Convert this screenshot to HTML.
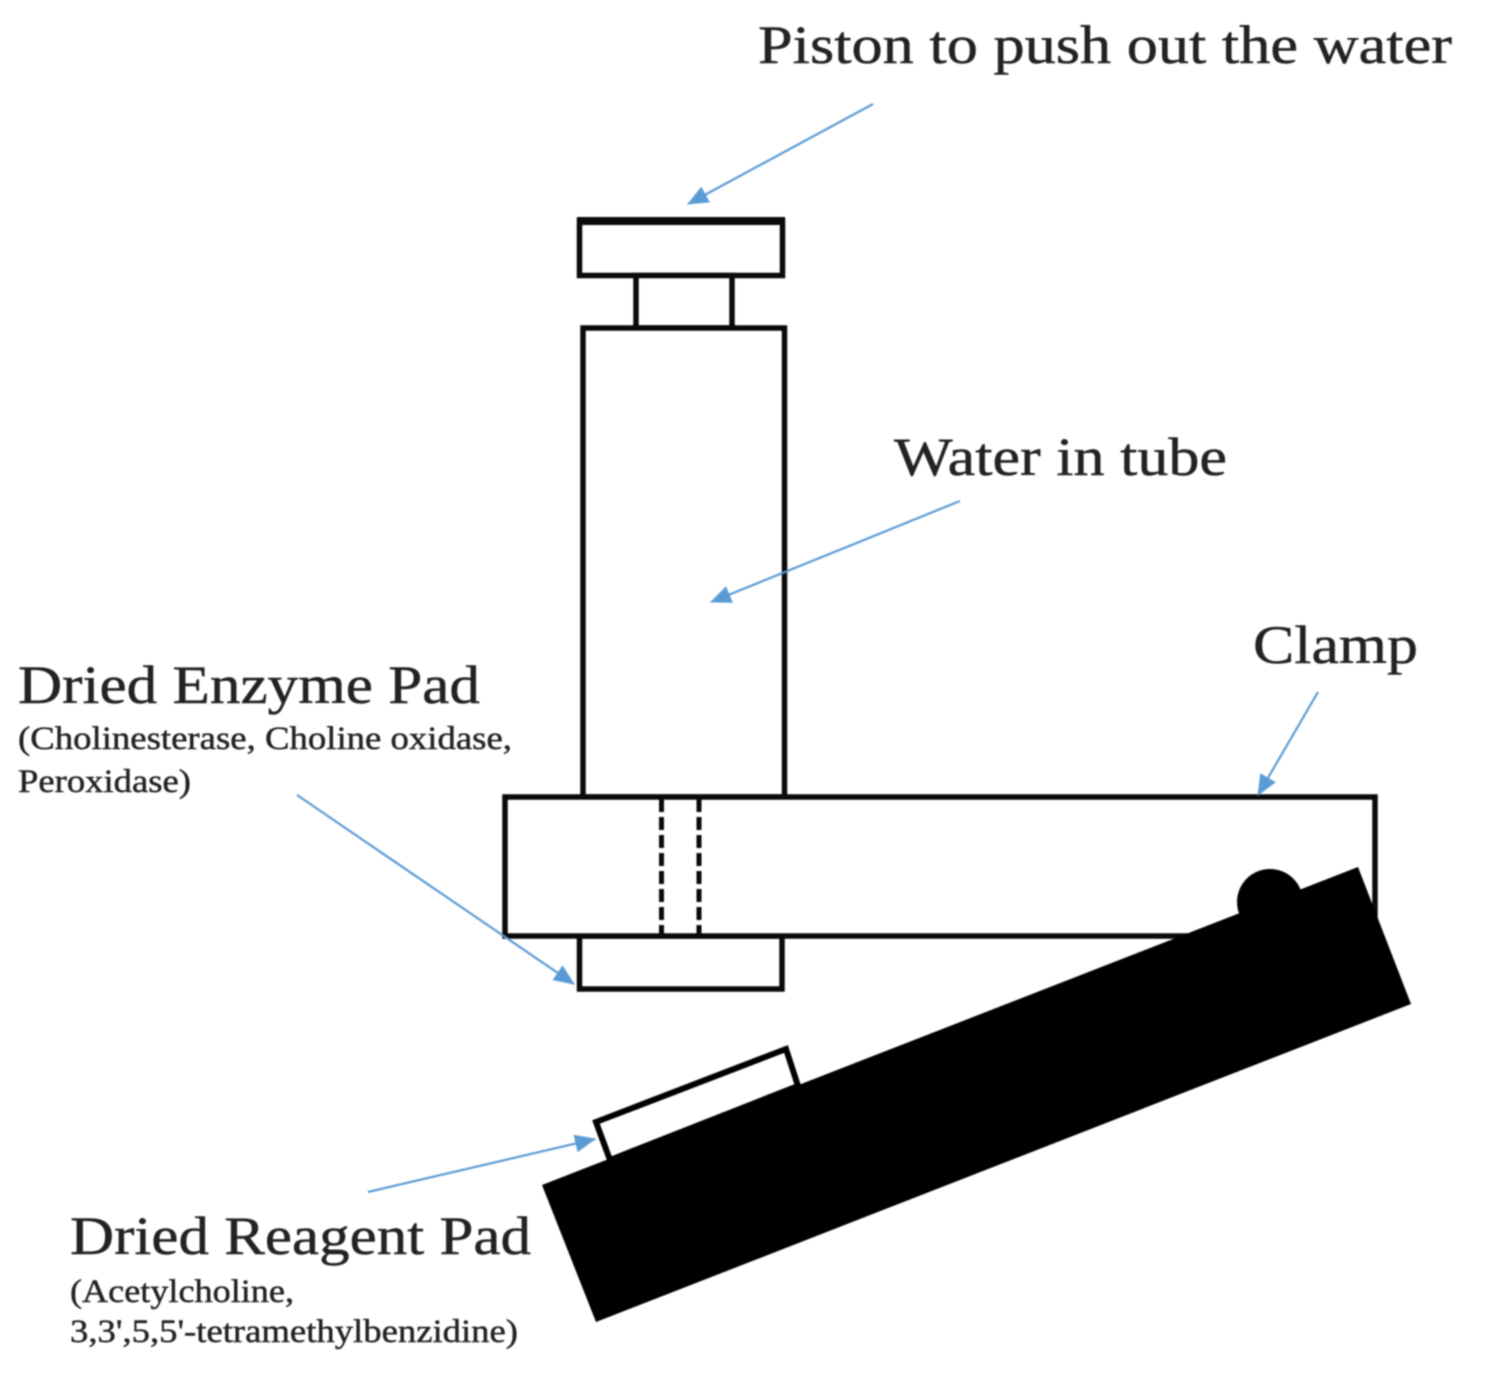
<!DOCTYPE html>
<html>
<head>
<meta charset="utf-8">
<style>
html,body{margin:0;padding:0;background:#fff;width:1485px;height:1384px;overflow:hidden}
svg{display:block;filter:blur(0.7px)}
text{font-family:"Liberation Serif",serif;fill:#222;stroke:#222;stroke-width:.45}
</style>
</head>
<body>
<svg width="1485" height="1384" viewBox="0 0 1485 1384">
<defs>
<marker id="a" markerWidth="21" markerHeight="18" refX="20" refY="9" orient="auto" markerUnits="userSpaceOnUse">
<path d="M0 0L21 9L0 18z" fill="#5b9bd5"/>
</marker>
</defs>
<g fill="#fff" stroke="#0a0a0a" stroke-width="5.5">
<rect x="579.5" y="221" width="203" height="54.5"/>
<rect x="636" y="275.5" width="96" height="52.5"/>
<rect x="583" y="328" width="201.5" height="469"/>
<rect x="579.5" y="936" width="202.5" height="53"/>
<rect x="505" y="797" width="870" height="139"/>
</g>
<rect x="577" y="217" width="208" height="8" fill="#0a0a0a"/>
<path d="M661.5 799V934M699 799V934" stroke="#0a0a0a" stroke-width="5" stroke-dasharray="13 5" fill="none"/>
<circle cx="1270" cy="902" r="33" fill="#000"/>
<path d="M1358 867L1411 1004L596 1322L542 1185z" fill="#000"/>
<path d="M596 1122L786 1049L798 1086L610 1160z" fill="#fff" stroke="#000" stroke-width="6"/>
<g stroke="#5b9bd5" stroke-width="2.2" fill="none">
<line x1="873" y1="104" x2="688" y2="204" marker-end="url(#a)"/>
<line x1="960" y1="501" x2="711" y2="602" marker-end="url(#a)"/>
<line x1="1318" y1="692" x2="1258" y2="795" marker-end="url(#a)"/>
<line x1="297" y1="795" x2="574" y2="984" marker-end="url(#a)"/>
<line x1="368" y1="1192" x2="595" y2="1139" marker-end="url(#a)"/>
</g>
<text x="758" y="63" font-size="54" textLength="694" lengthAdjust="spacingAndGlyphs">Piston to push out the water</text>
<text x="894" y="475" font-size="54" textLength="333" lengthAdjust="spacingAndGlyphs">Water in tube</text>
<text x="1253" y="663" font-size="54" textLength="165" lengthAdjust="spacingAndGlyphs">Clamp</text>
<text x="18" y="703" font-size="54" textLength="462" lengthAdjust="spacingAndGlyphs">Dried Enzyme Pad</text>
<text x="18" y="749" font-size="33" textLength="494" lengthAdjust="spacingAndGlyphs">(Cholinesterase, Choline oxidase,</text>
<text x="18" y="792" font-size="33" textLength="173" lengthAdjust="spacingAndGlyphs">Peroxidase)</text>
<text x="70" y="1254" font-size="54" textLength="461" lengthAdjust="spacingAndGlyphs">Dried Reagent Pad</text>
<text x="70" y="1302" font-size="33" textLength="224" lengthAdjust="spacingAndGlyphs">(Acetylcholine,</text>
<text x="70" y="1342" font-size="33" textLength="448" lengthAdjust="spacingAndGlyphs">3,3',5,5'-tetramethylbenzidine)</text>
</svg>
</body>
</html>
